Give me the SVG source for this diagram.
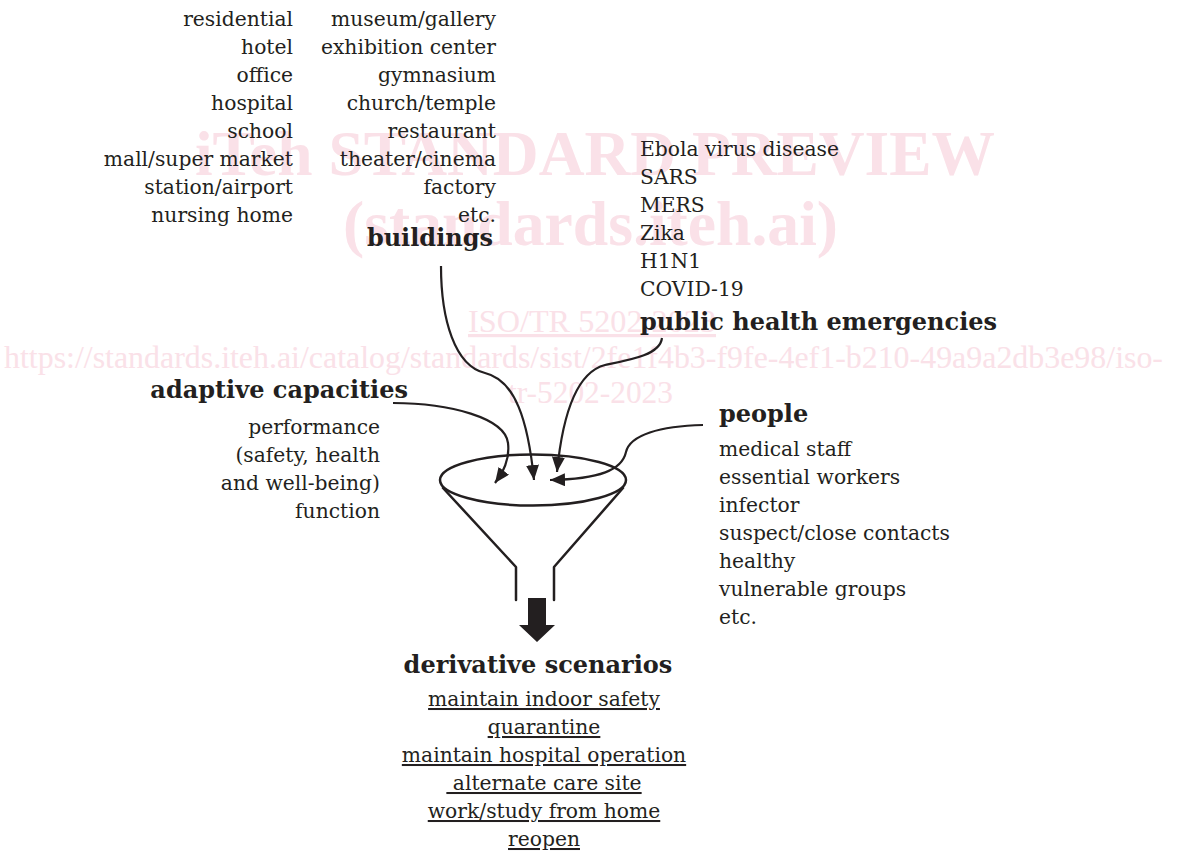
<svg xmlns="http://www.w3.org/2000/svg" width="1178" height="854" viewBox="0 0 1178 854">
<style>
  .t { font-family: "DejaVu Serif", "Liberation Serif", serif; font-size: 20.3px; fill: #231f20; }
  .h { font-family: "DejaVu Serif", "Liberation Serif", serif; font-size: 24px; font-weight: bold; fill: #231f20; }
  .r { text-anchor: end; }
  .m { text-anchor: middle; }
  .u { text-decoration: underline; }
  .wm { font-family: "Liberation Serif", serif; fill: #fae1e8; }
  .wb { font-size: 64px; font-weight: bold; }
  .wr { font-size: 32px; }
  .ln { fill: none; stroke: #231f20; stroke-width: 2.5; stroke-linecap: round; stroke-linejoin: round; }
  .cn { fill: none; stroke: #231f20; stroke-width: 2.2; }
</style>
<defs>
  <marker id="ah" markerUnits="userSpaceOnUse" markerWidth="18" markerHeight="16" refX="15" refY="6.5" orient="auto">
    <path d="M0,0 L15,6.5 L0,13 Z" fill="#231f20"/>
  </marker>
</defs>
<rect width="1178" height="854" fill="#ffffff"/>

<g id="watermark" class="wm">
  <text class="wb" x="195" y="175" textLength="800" lengthAdjust="spacingAndGlyphs">iTeh STANDARD PREVIEW</text>
  <text class="wb" x="343" y="245" textLength="495" lengthAdjust="spacingAndGlyphs">(standards.iteh.ai)</text>
  <text class="wr u" x="468" y="332" textLength="248" lengthAdjust="spacingAndGlyphs">ISO/TR 5202:2023</text>
  <text class="wr" x="4" y="368" textLength="1159" lengthAdjust="spacingAndGlyphs">https://standards.iteh.ai/catalog/standards/sist/2fe1f4b3-f9fe-4ef1-b210-49a9a2db3e98/iso-</text>
  <text class="wr" x="508" y="403" textLength="165" lengthAdjust="spacingAndGlyphs">tr-5202-2023</text>
</g>

<g id="buildings">
  <text class="t r" x="293" y="26">residential</text>
  <text class="t r" x="293" y="54">hotel</text>
  <text class="t r" x="293" y="82">office</text>
  <text class="t r" x="293" y="110">hospital</text>
  <text class="t r" x="293" y="138">school</text>
  <text class="t r" x="293" y="166">mall/super market</text>
  <text class="t r" x="293" y="194">station/airport</text>
  <text class="t r" x="293" y="222">nursing home</text>
  <text class="t r" x="496" y="26">museum/gallery</text>
  <text class="t r" x="496" y="54">exhibition center</text>
  <text class="t r" x="496" y="82">gymnasium</text>
  <text class="t r" x="496" y="110">church/temple</text>
  <text class="t r" x="496" y="138">restaurant</text>
  <text class="t r" x="496" y="166">theater/cinema</text>
  <text class="t r" x="496" y="194">factory</text>
  <text class="t r" x="496" y="222">etc.</text>
  <text class="h r" x="493" y="246">buildings</text>
</g>

<g id="public-health-emergencies">
  <text class="t" x="640" y="156">Ebola virus disease</text>
  <text class="t" x="640" y="184">SARS</text>
  <text class="t" x="640" y="212">MERS</text>
  <text class="t" x="640" y="240">Zika</text>
  <text class="t" x="640" y="268">H1N1</text>
  <text class="t" x="640" y="296">COVID-19</text>
  <text class="h" x="640" y="330">public health emergencies</text>
</g>

<g id="adaptive-capacities">
  <text class="h r" x="408" y="398">adaptive capacities</text>
  <text class="t r" x="380" y="434">performance</text>
  <text class="t r" x="380" y="462">(safety, health</text>
  <text class="t r" x="380" y="490">and well-being)</text>
  <text class="t r" x="380" y="518">function</text>
</g>

<g id="people">
  <text class="h" x="719" y="422">people</text>
  <text class="t" x="719" y="456">medical staff</text>
  <text class="t" x="719" y="484">essential workers</text>
  <text class="t" x="719" y="512">infector</text>
  <text class="t" x="719" y="540">suspect/close contacts</text>
  <text class="t" x="719" y="568">healthy</text>
  <text class="t" x="719" y="596">vulnerable groups</text>
  <text class="t" x="719" y="624">etc.</text>
</g>

<g id="funnel">
  <ellipse class="ln" cx="533" cy="480" rx="93" ry="25.5"/>
  <polyline class="ln" points="443,488 516,567 516,600"/>
  <polyline class="ln" points="623,488 554,567 554,600"/>
  <polygon points="528,598 546,598 546,625 555,625 537,642 519,625 528,625" fill="#231f20"/>
</g>

<g id="derivative-scenarios">
  <text class="h m" x="538" y="673">derivative scenarios</text>
  <text class="t m u" x="544" y="706">maintain indoor safety</text>
  <text class="t m u" x="544" y="734">quarantine</text>
  <text class="t m u" x="544" y="762">maintain hospital operation</text>
  <text class="t m u" x="544" y="790">&#160;alternate care site</text>
  <text class="t m u" x="544" y="818">work/study from home</text>
  <text class="t m u" x="544" y="846">reopen</text>
</g>

<g id="connectors">
  <path class="cn" marker-end="url(#ah)" d="M393,403 C450,403 505,418 508,443 C510,460 503,472 495,483"/>
  <path class="cn" marker-end="url(#ah)" d="M441,266 C441,320 455,366 485,373 C515,380 528,420 534,480"/>
  <path class="cn" marker-end="url(#ah)" d="M662,338 C660,355 630,360 605,365 C578,372 563,410 557,472"/>
  <path class="cn" marker-end="url(#ah)" d="M703,425 C660,426 630,435 626,452 C622,470 600,479 550,480"/>
</g>
</svg>
